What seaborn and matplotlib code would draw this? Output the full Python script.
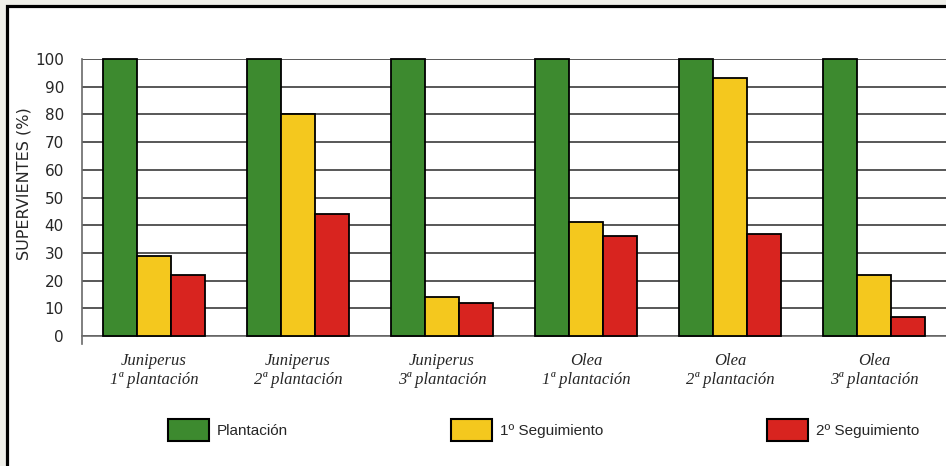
import pandas as pd
import seaborn as sns
import matplotlib.pyplot as plt
from matplotlib.patches import Rectangle

# Datos
grupos = ["Juniperus\n1ª plantación", "Juniperus\n2ª plantación", "Juniperus\n3ª plantación",
          "Olea\n1ª plantación", "Olea\n2ª plantación", "Olea\n3ª plantación"]
plantacion = [100, 100, 100, 100, 100, 100]
seguimiento1 = [29, 80, 14, 41, 93, 22]
seguimiento2 = [22, 44, 12, 36, 37, 7]
series = ["Plantación", "1º Seguimiento", "2º Seguimiento"]
colores = ["#3d8a2f", "#f4c81e", "#d8241f"]

df = pd.DataFrame({"grupo": grupos, series[0]: plantacion,
                   series[1]: seguimiento1, series[2]: seguimiento2})
df_long = df.melt(id_vars="grupo", var_name="serie", value_name="valor")

sns.set_style("white")
plt.rcParams['font.family'] = ['Liberation Sans', 'DejaVu Sans']

fig = plt.figure(figsize=(9.46, 4.66), dpi=100, facecolor="#efefe9")
# marco negro exterior
fig.patches.append(Rectangle((6.5 / 946, -0.05), 1.2, 1.05 - 5.5 / 466,
                             transform=fig.transFigure, facecolor="white",
                             edgecolor="black", linewidth=2.3, zorder=-10))

ax = fig.add_axes([82 / 946, 130 / 466, 864 / 946, 277 / 466])
ax.set_facecolor("none")

sns.barplot(data=df_long, x="grupo", y="valor", hue="serie", hue_order=series,
            palette=colores, width=0.71, edgecolor="black", linewidth=1.3,
            saturation=1, legend=False, ax=ax, zorder=3)
for bar in ax.patches:
    bar.set_clip_on(False)

ax.set_ylim(0, 100)
ax.set_xlim(-0.5, 5.5)
ax.set_yticks(range(0, 101, 10))
ax.yaxis.grid(True, color="#575757", linewidth=1.4, zorder=0)
ax.set_axisbelow(True)

for s in ["top", "right"]:
    ax.spines[s].set_visible(False)
for s in ["left", "bottom"]:
    ax.spines[s].set_color("#6a6a6a")
    ax.spines[s].set_linewidth(1.2)
ax.spines["left"].set_bounds(-3, 100)

ax.tick_params(axis="y", length=10, width=1.2, color="#6a6a6a", pad=3)
for t in ax.get_yticklabels():
    t.set_family("DejaVu Sans")
    t.set_fontsize(11)
ax.tick_params(axis="x", which="major", length=0, pad=12)
ax.set_xticks([i - 0.5 for i in range(7)], minor=True)
ax.tick_params(axis="x", which="minor", length=6, width=1.2, color="#6a6a6a")

ax.set_xticks(range(len(grupos)))
ax.set_xticklabels(grupos, family=["Liberation Serif"], style="italic",
                   fontsize=12, linespacing=1.3)
ax.set_xlabel("")
ax.set_ylabel("SUPERVIENTES (%)", fontsize=11.5, family=["DejaVu Sans"])
ax.yaxis.set_label_coords(-0.059, 0.55)

handles = [Rectangle((0, 0), 1, 1, facecolor=c, edgecolor="black", linewidth=1.5)
           for c in colores]
fig.legend(handles, series, loc="center left", bbox_to_anchor=(154 / 946, 36 / 466),
           ncol=3, frameon=False, fontsize=11, handlelength=2.7, handleheight=1.75,
           handletextpad=0.5, columnspacing=10.7)

fig.savefig("out.png", dpi=100, facecolor=fig.get_facecolor())
